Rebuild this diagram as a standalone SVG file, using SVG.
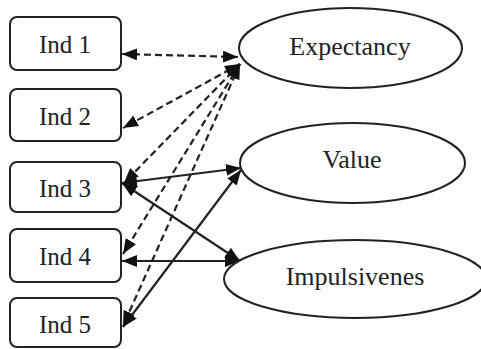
<svg xmlns="http://www.w3.org/2000/svg" width="481" height="349" viewBox="0 0 481 349">
<style>
.box{fill:#fff;stroke:#222;stroke-width:2}
.ell{fill:#fff;stroke:#222;stroke-width:2}
.t{font-family:"Liberation Serif","Times New Roman",serif;font-size:25px;fill:#222;text-anchor:middle}
.te{font-family:"Liberation Serif","Times New Roman",serif;font-size:26px;fill:#222;text-anchor:middle}
.d{stroke:#222;stroke-width:2.2;fill:none;stroke-dasharray:7 4;marker-start:url(#ah);marker-end:url(#ah)}
.s{stroke:#222;stroke-width:2.2;fill:none;marker-start:url(#ah);marker-end:url(#ah)}
</style>
<defs>
<marker id="ah" markerUnits="userSpaceOnUse" markerWidth="16" markerHeight="13" refX="15" refY="6" orient="auto-start-reverse" viewBox="0 0 16 13">
<path d="M0,0 L15,6 L0,12 z" fill="#111"/>
</marker>
</defs>
<rect width="481" height="349" fill="#fff"/>
<g id="connectors">
<line class="d" x1="122" y1="54" x2="238" y2="57"/>
<line class="d" x1="240" y1="64" x2="123" y2="128"/>
<line class="d" x1="240" y1="64" x2="124" y2="183"/>
<line class="d" x1="240" y1="64" x2="123" y2="254"/>
<line class="d" x1="240" y1="64" x2="123" y2="326"/>
<line class="s" x1="122" y1="183" x2="241" y2="168"/>
<line class="s" x1="122" y1="183" x2="240" y2="261"/>
<line class="s" x1="122" y1="261" x2="240" y2="261"/>
<line class="s" x1="123" y1="327" x2="241" y2="170"/>
</g>
<g id="ind1"><rect class="box" x="10" y="17" width="111" height="53" rx="7"/><text class="t" x="65" y="53">Ind 1</text></g>
<g id="ind2"><rect class="box" x="10" y="89" width="111" height="52" rx="7"/><text class="t" x="65" y="125">Ind 2</text></g>
<g id="ind3"><rect class="box" x="10" y="162" width="111" height="50" rx="7"/><text class="t" x="65" y="197">Ind 3</text></g>
<g id="ind4"><rect class="box" x="10" y="229" width="111" height="53" rx="7"/><text class="t" x="65" y="265">Ind 4</text></g>
<g id="ind5"><rect class="box" x="10" y="298" width="111" height="49" rx="7"/><text class="t" x="65" y="333">Ind 5</text></g>
<g id="expectancy"><ellipse class="ell" cx="350.5" cy="48" rx="111.5" ry="40"/><text class="te" x="350" y="55">Expectancy</text></g>
<g id="value"><ellipse class="ell" cx="352.5" cy="163" rx="112.5" ry="40"/><text class="te" x="352" y="168">Value</text></g>
<g id="impulsivenes"><ellipse class="ell" cx="355" cy="279" rx="131" ry="39"/><text class="te" x="355" y="285">Impulsivenes</text></g>
</svg>
